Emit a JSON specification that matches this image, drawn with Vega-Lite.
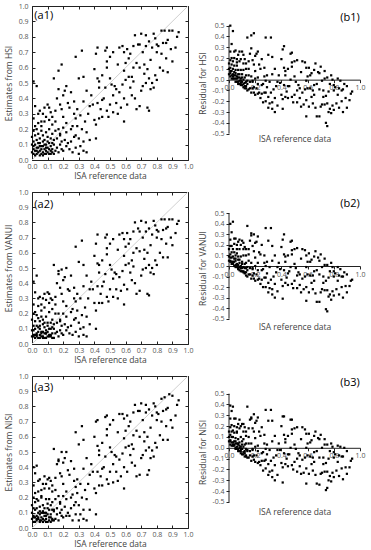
{
"$schema":"https://vega.github.io/schema/vega-lite/v6.json",
"background":"white",
"padding":{"left":3,"right":3,"top":1,"bottom":1},
"config":{"view":{"stroke":null},"font":"Open Sans","axis":{"grid":false,"labelFont":"Open Sans","labelFontSize":7,"labelColor":"#555","titleFont":"Open Sans","titleFontSize":8.5,"titleFontWeight":"normal","titleColor":"#444","tickColor":"#222","domainColor":"#222","labelFlush":false,"labelOverlap":false}},
"datasets":{"pts":[
{"x":0.00,"h":0.05,"v":0.05,"n":0.06,"rh":0.05,"rv":0.05,"rn":0.06},
{"x":0.01,"h":0.07,"v":0.06,"n":0.07,"rh":0.06,"rv":0.05,"rn":0.06},
{"x":0.01,"h":0.04,"v":0.05,"n":0.04,"rh":0.03,"rv":0.04,"rn":0.03},
{"x":0.02,"h":0.10,"v":0.10,"n":0.12,"rh":0.08,"rv":0.08,"rn":0.10},
{"x":0.02,"h":0.06,"v":0.06,"n":0.07,"rh":0.04,"rv":0.04,"rn":0.05},
{"x":0.03,"h":0.13,"v":0.12,"n":0.13,"rh":0.10,"rv":0.09,"rn":0.10},
{"x":0.03,"h":0.04,"v":0.05,"n":0.05,"rh":0.01,"rv":0.02,"rn":0.02},
{"x":0.04,"h":0.08,"v":0.08,"n":0.07,"rh":0.04,"rv":0.04,"rn":0.03},
{"x":0.04,"h":0.05,"v":0.04,"n":0.06,"rh":0.01,"rv":0.00,"rn":0.02},
{"x":0.05,"h":0.11,"v":0.12,"n":0.11,"rh":0.06,"rv":0.07,"rn":0.06},
{"x":0.05,"h":0.06,"v":0.06,"n":0.05,"rh":0.01,"rv":0.01,"rn":0.00},
{"x":0.06,"h":0.04,"v":0.05,"n":0.05,"rh":-0.02,"rv":-0.01,"rn":-0.01},
{"x":0.06,"h":0.09,"v":0.08,"n":0.10,"rh":0.03,"rv":0.02,"rn":0.04},
{"x":0.07,"h":0.05,"v":0.05,"n":0.06,"rh":-0.02,"rv":-0.02,"rn":-0.01},
{"x":0.07,"h":0.12,"v":0.13,"n":0.11,"rh":0.05,"rv":0.06,"rn":0.04},
{"x":0.08,"h":0.07,"v":0.07,"n":0.08,"rh":-0.01,"rv":-0.01,"rn":0.00},
{"x":0.08,"h":0.04,"v":0.04,"n":0.05,"rh":-0.04,"rv":-0.04,"rn":-0.03},
{"x":0.09,"h":0.10,"v":0.09,"n":0.10,"rh":0.01,"rv":0.00,"rn":0.01},
{"x":0.09,"h":0.06,"v":0.07,"n":0.06,"rh":-0.03,"rv":-0.02,"rn":-0.03},
{"x":0.10,"h":0.05,"v":0.05,"n":0.04,"rh":-0.05,"rv":-0.05,"rn":-0.06},
{"x":0.10,"h":0.08,"v":0.08,"n":0.09,"rh":-0.02,"rv":-0.02,"rn":-0.01},
{"x":0.11,"h":0.04,"v":0.05,"n":0.05,"rh":-0.07,"rv":-0.06,"rn":-0.06},
{"x":0.11,"h":0.11,"v":0.10,"n":0.12,"rh":0.00,"rv":-0.01,"rn":0.01},
{"x":0.12,"h":0.06,"v":0.06,"n":0.07,"rh":-0.06,"rv":-0.06,"rn":-0.05},
{"x":0.12,"h":0.09,"v":0.10,"n":0.09,"rh":-0.03,"rv":-0.02,"rn":-0.03},
{"x":0.13,"h":0.05,"v":0.04,"n":0.05,"rh":-0.08,"rv":-0.09,"rn":-0.08},
{"x":0.13,"h":0.07,"v":0.07,"n":0.06,"rh":-0.06,"rv":-0.06,"rn":-0.07},
{"x":0.14,"h":0.10,"v":0.10,"n":0.11,"rh":-0.04,"rv":-0.04,"rn":-0.03},
{"x":0.14,"h":0.04,"v":0.04,"n":0.05,"rh":-0.10,"rv":-0.10,"rn":-0.09},
{"x":0.15,"h":0.06,"v":0.07,"n":0.06,"rh":-0.09,"rv":-0.08,"rn":-0.09},
{"x":0.00,"h":0.15,"v":0.16,"n":0.15,"rh":0.15,"rv":0.16,"rn":0.15},
{"x":0.01,"h":0.19,"v":0.20,"n":0.20,"rh":0.18,"rv":0.19,"rn":0.19},
{"x":0.02,"h":0.16,"v":0.15,"n":0.17,"rh":0.14,"rv":0.13,"rn":0.15},
{"x":0.03,"h":0.20,"v":0.19,"n":0.19,"rh":0.17,"rv":0.16,"rn":0.16},
{"x":0.04,"h":0.17,"v":0.17,"n":0.18,"rh":0.13,"rv":0.13,"rn":0.14},
{"x":0.05,"h":0.14,"v":0.15,"n":0.14,"rh":0.09,"rv":0.10,"rn":0.09},
{"x":0.06,"h":0.19,"v":0.18,"n":0.20,"rh":0.13,"rv":0.12,"rn":0.14},
{"x":0.07,"h":0.16,"v":0.16,"n":0.15,"rh":0.09,"rv":0.09,"rn":0.08},
{"x":0.08,"h":0.13,"v":0.14,"n":0.13,"rh":0.05,"rv":0.06,"rn":0.05},
{"x":0.09,"h":0.18,"v":0.18,"n":0.19,"rh":0.09,"rv":0.09,"rn":0.10},
{"x":0.10,"h":0.15,"v":0.14,"n":0.16,"rh":0.05,"rv":0.04,"rn":0.06},
{"x":0.11,"h":0.20,"v":0.21,"n":0.19,"rh":0.09,"rv":0.10,"rn":0.08},
{"x":0.12,"h":0.14,"v":0.14,"n":0.15,"rh":0.02,"rv":0.02,"rn":0.03},
{"x":0.13,"h":0.17,"v":0.16,"n":0.17,"rh":0.04,"rv":0.03,"rn":0.04},
{"x":0.14,"h":0.13,"v":0.13,"n":0.12,"rh":-0.01,"rv":-0.01,"rn":-0.02},
{"x":0.15,"h":0.19,"v":0.20,"n":0.19,"rh":0.04,"rv":0.05,"rn":0.04},
{"x":0.00,"h":0.10,"v":0.09,"n":0.10,"rh":0.10,"rv":0.09,"rn":0.10},
{"x":0.01,"h":0.12,"v":0.12,"n":0.13,"rh":0.11,"rv":0.11,"rn":0.12},
{"x":0.02,"h":0.03,"v":0.04,"n":0.04,"rh":0.01,"rv":0.02,"rn":0.02},
{"x":0.03,"h":0.08,"v":0.07,"n":0.08,"rh":0.05,"rv":0.04,"rn":0.05},
{"x":0.04,"h":0.11,"v":0.11,"n":0.10,"rh":0.07,"rv":0.07,"rn":0.06},
{"x":0.05,"h":0.03,"v":0.04,"n":0.04,"rh":-0.02,"rv":-0.01,"rn":-0.01},
{"x":0.06,"h":0.07,"v":0.07,"n":0.07,"rh":0.01,"rv":0.01,"rn":0.01},
{"x":0.07,"h":0.09,"v":0.08,"n":0.10,"rh":0.02,"rv":0.01,"rn":0.03},
{"x":0.08,"h":0.10,"v":0.11,"n":0.10,"rh":0.02,"rv":0.03,"rn":0.02},
{"x":0.09,"h":0.04,"v":0.04,"n":0.04,"rh":-0.05,"rv":-0.05,"rn":-0.05},
{"x":0.10,"h":0.12,"v":0.12,"n":0.13,"rh":0.02,"rv":0.02,"rn":0.03},
{"x":0.11,"h":0.07,"v":0.06,"n":0.07,"rh":-0.04,"rv":-0.05,"rn":-0.04},
{"x":0.12,"h":0.04,"v":0.05,"n":0.04,"rh":-0.08,"rv":-0.07,"rn":-0.08},
{"x":0.13,"h":0.11,"v":0.11,"n":0.12,"rh":-0.02,"rv":-0.02,"rn":-0.01},
{"x":0.02,"h":0.22,"v":0.21,"n":0.23,"rh":0.20,"rv":0.19,"rn":0.21},
{"x":0.04,"h":0.24,"v":0.25,"n":0.24,"rh":0.20,"rv":0.21,"rn":0.20},
{"x":0.06,"h":0.22,"v":0.22,"n":0.21,"rh":0.16,"rv":0.16,"rn":0.15},
{"x":0.08,"h":0.25,"v":0.24,"n":0.26,"rh":0.17,"rv":0.16,"rn":0.18},
{"x":0.01,"h":0.09,"v":0.09,"n":0.08,"rh":0.08,"rv":0.08,"rn":0.07},
{"x":0.03,"h":0.06,"v":0.06,"n":0.06,"rh":0.03,"rv":0.03,"rn":0.03},
{"x":0.05,"h":0.09,"v":0.10,"n":0.09,"rh":0.04,"rv":0.05,"rn":0.04},
{"x":0.07,"h":0.03,"v":0.04,"n":0.04,"rh":-0.04,"rv":-0.03,"rn":-0.03},
{"x":0.09,"h":0.08,"v":0.07,"n":0.08,"rh":-0.01,"rv":-0.02,"rn":-0.01},
{"x":0.16,"h":0.08,"v":0.08,"n":0.09,"rh":-0.08,"rv":-0.08,"rn":-0.07},
{"x":0.17,"h":0.05,"v":0.05,"n":0.05,"rh":-0.12,"rv":-0.12,"rn":-0.12},
{"x":0.18,"h":0.10,"v":0.09,"n":0.10,"rh":-0.08,"rv":-0.09,"rn":-0.08},
{"x":0.19,"h":0.07,"v":0.07,"n":0.08,"rh":-0.12,"rv":-0.12,"rn":-0.11},
{"x":0.16,"h":0.14,"v":0.14,"n":0.13,"rh":-0.02,"rv":-0.02,"rn":-0.03},
{"x":0.18,"h":0.17,"v":0.16,"n":0.17,"rh":-0.01,"rv":-0.02,"rn":-0.01},
{"x":0.17,"h":0.20,"v":0.20,"n":0.21,"rh":0.03,"rv":0.03,"rn":0.04},
{"x":0.01,"h":0.27,"v":0.26,"n":0.28,"rh":0.26,"rv":0.25,"rn":0.27},
{"x":0.01,"h":0.51,"v":0.41,"n":0.40,"rh":0.50,"rv":0.40,"rn":0.39},
{"x":0.03,"h":0.48,"v":0.45,"n":0.41,"rh":0.45,"rv":0.42,"rn":0.38},
{"x":0.02,"h":0.35,"v":0.34,"n":0.36,"rh":0.33,"rv":0.32,"rn":0.34},
{"x":0.04,"h":0.30,"v":0.30,"n":0.31,"rh":0.26,"rv":0.26,"rn":0.27},
{"x":0.05,"h":0.32,"v":0.31,"n":0.32,"rh":0.27,"rv":0.26,"rn":0.27},
{"x":0.07,"h":0.30,"v":0.30,"n":0.29,"rh":0.23,"rv":0.23,"rn":0.22},
{"x":0.08,"h":0.34,"v":0.33,"n":0.34,"rh":0.26,"rv":0.25,"rn":0.26},
{"x":0.10,"h":0.36,"v":0.34,"n":0.32,"rh":0.26,"rv":0.24,"rn":0.22},
{"x":0.11,"h":0.34,"v":0.33,"n":0.33,"rh":0.23,"rv":0.22,"rn":0.22},
{"x":0.11,"h":0.26,"v":0.27,"n":0.26,"rh":0.15,"rv":0.16,"rn":0.15},
{"x":0.13,"h":0.28,"v":0.29,"n":0.28,"rh":0.15,"rv":0.16,"rn":0.15},
{"x":0.12,"h":0.31,"v":0.30,"n":0.31,"rh":0.19,"rv":0.18,"rn":0.19},
{"x":0.15,"h":0.32,"v":0.31,"n":0.33,"rh":0.17,"rv":0.16,"rn":0.18},
{"x":0.14,"h":0.53,"v":0.52,"n":0.52,"rh":0.39,"rv":0.38,"rn":0.38},
{"x":0.17,"h":0.58,"v":0.48,"n":0.45,"rh":0.41,"rv":0.31,"rn":0.28},
{"x":0.19,"h":0.62,"v":0.49,"n":0.50,"rh":0.43,"rv":0.30,"rn":0.31},
{"x":0.17,"h":0.46,"v":0.46,"n":0.44,"rh":0.29,"rv":0.29,"rn":0.27},
{"x":0.21,"h":0.45,"v":0.44,"n":0.46,"rh":0.24,"rv":0.23,"rn":0.25},
{"x":0.22,"h":0.48,"v":0.50,"n":0.50,"rh":0.26,"rv":0.28,"rn":0.28},
{"x":0.19,"h":0.33,"v":0.33,"n":0.34,"rh":0.14,"rv":0.14,"rn":0.15},
{"x":0.23,"h":0.37,"v":0.36,"n":0.38,"rh":0.14,"rv":0.13,"rn":0.15},
{"x":0.24,"h":0.34,"v":0.35,"n":0.35,"rh":0.10,"rv":0.11,"rn":0.11},
{"x":0.29,"h":0.33,"v":0.33,"n":0.32,"rh":0.04,"rv":0.04,"rn":0.03},
{"x":0.28,"h":0.27,"v":0.28,"n":0.27,"rh":-0.01,"rv":0.00,"rn":-0.01},
{"x":0.28,"h":0.67,"v":0.64,"n":0.63,"rh":0.39,"rv":0.36,"rn":0.35},
{"x":0.30,"h":0.53,"v":0.54,"n":0.55,"rh":0.23,"rv":0.24,"rn":0.25},
{"x":0.33,"h":0.54,"v":0.52,"n":0.58,"rh":0.21,"rv":0.19,"rn":0.25},
{"x":0.32,"h":0.71,"v":0.68,"n":0.67,"rh":0.39,"rv":0.36,"rn":0.35},
{"x":0.16,"h":0.40,"v":0.40,"n":0.42,"rh":0.24,"rv":0.24,"rn":0.26},
{"x":0.18,"h":0.36,"v":0.37,"n":0.36,"rh":0.18,"rv":0.19,"rn":0.18},
{"x":0.20,"h":0.42,"v":0.42,"n":0.43,"rh":0.22,"rv":0.22,"rn":0.23},
{"x":0.25,"h":0.44,"v":0.45,"n":0.44,"rh":0.19,"rv":0.20,"rn":0.19},
{"x":0.27,"h":0.38,"v":0.37,"n":0.39,"rh":0.11,"rv":0.10,"rn":0.12},
{"x":0.09,"h":0.28,"v":0.29,"n":0.29,"rh":0.19,"rv":0.20,"rn":0.20},
{"x":0.06,"h":0.25,"v":0.26,"n":0.25,"rh":0.19,"rv":0.20,"rn":0.19},
{"x":0.13,"h":0.23,"v":0.23,"n":0.24,"rh":0.10,"rv":0.10,"rn":0.11},
{"x":0.15,"h":0.25,"v":0.26,"n":0.25,"rh":0.10,"rv":0.11,"rn":0.10},
{"x":0.20,"h":0.28,"v":0.28,"n":0.29,"rh":0.08,"rv":0.08,"rn":0.09},
{"x":0.22,"h":0.24,"v":0.25,"n":0.24,"rh":0.02,"rv":0.03,"rn":0.02},
{"x":0.20,"h":0.06,"v":0.06,"n":0.07,"rh":-0.14,"rv":-0.14,"rn":-0.13},
{"x":0.22,"h":0.09,"v":0.09,"n":0.08,"rh":-0.13,"rv":-0.13,"rn":-0.14},
{"x":0.24,"h":0.07,"v":0.07,"n":0.08,"rh":-0.17,"rv":-0.17,"rn":-0.16},
{"x":0.26,"h":0.05,"v":0.06,"n":0.05,"rh":-0.21,"rv":-0.20,"rn":-0.21},
{"x":0.28,"h":0.08,"v":0.08,"n":0.09,"rh":-0.20,"rv":-0.20,"rn":-0.19},
{"x":0.30,"h":0.04,"v":0.05,"n":0.05,"rh":-0.26,"rv":-0.25,"rn":-0.25},
{"x":0.33,"h":0.06,"v":0.06,"n":0.06,"rh":-0.27,"rv":-0.27,"rn":-0.27},
{"x":0.35,"h":0.05,"v":0.05,"n":0.05,"rh":-0.30,"rv":-0.30,"rn":-0.30},
{"x":0.25,"h":0.12,"v":0.12,"n":0.13,"rh":-0.13,"rv":-0.13,"rn":-0.12},
{"x":0.27,"h":0.15,"v":0.16,"n":0.15,"rh":-0.12,"rv":-0.11,"rn":-0.12},
{"x":0.28,"h":0.16,"v":0.17,"n":0.17,"rh":-0.12,"rv":-0.11,"rn":-0.11},
{"x":0.30,"h":0.14,"v":0.14,"n":0.15,"rh":-0.16,"rv":-0.16,"rn":-0.15},
{"x":0.33,"h":0.12,"v":0.11,"n":0.12,"rh":-0.21,"rv":-0.22,"rn":-0.21},
{"x":0.37,"h":0.13,"v":0.13,"n":0.12,"rh":-0.24,"rv":-0.24,"rn":-0.25},
{"x":0.41,"h":0.14,"v":0.10,"n":0.09,"rh":-0.27,"rv":-0.31,"rn":-0.32},
{"x":0.18,"h":0.16,"v":0.15,"n":0.16,"rh":-0.02,"rv":-0.03,"rn":-0.02},
{"x":0.20,"h":0.21,"v":0.20,"n":0.21,"rh":0.01,"rv":0.00,"rn":0.01},
{"x":0.22,"h":0.18,"v":0.18,"n":0.19,"rh":-0.04,"rv":-0.04,"rn":-0.03},
{"x":0.25,"h":0.20,"v":0.21,"n":0.20,"rh":-0.05,"rv":-0.04,"rn":-0.05},
{"x":0.29,"h":0.22,"v":0.22,"n":0.23,"rh":-0.07,"rv":-0.07,"rn":-0.06},
{"x":0.32,"h":0.20,"v":0.19,"n":0.20,"rh":-0.12,"rv":-0.13,"rn":-0.12},
{"x":0.35,"h":0.18,"v":0.18,"n":0.19,"rh":-0.17,"rv":-0.17,"rn":-0.16},
{"x":0.21,"h":0.13,"v":0.13,"n":0.14,"rh":-0.08,"rv":-0.08,"rn":-0.07},
{"x":0.23,"h":0.11,"v":0.11,"n":0.10,"rh":-0.12,"rv":-0.12,"rn":-0.13},
{"x":0.31,"h":0.09,"v":0.10,"n":0.09,"rh":-0.22,"rv":-0.21,"rn":-0.22},
{"x":0.19,"h":0.12,"v":0.12,"n":0.12,"rh":-0.07,"rv":-0.07,"rn":-0.07},
{"x":0.26,"h":0.22,"v":0.23,"n":0.22,"rh":-0.04,"rv":-0.03,"rn":-0.04},
{"x":0.27,"h":0.30,"v":0.30,"n":0.31,"rh":0.03,"rv":0.03,"rn":0.04},
{"x":0.34,"h":0.25,"v":0.24,"n":0.25,"rh":-0.09,"rv":-0.10,"rn":-0.09},
{"x":0.40,"h":0.26,"v":0.27,"n":0.26,"rh":-0.14,"rv":-0.13,"rn":-0.14},
{"x":0.41,"h":0.23,"v":0.22,"n":0.23,"rh":-0.18,"rv":-0.19,"rn":-0.18},
{"x":0.43,"h":0.27,"v":0.27,"n":0.28,"rh":-0.16,"rv":-0.16,"rn":-0.15},
{"x":0.39,"h":0.36,"v":0.36,"n":0.37,"rh":-0.03,"rv":-0.03,"rn":-0.02},
{"x":0.42,"h":0.37,"v":0.38,"n":0.37,"rh":-0.05,"rv":-0.04,"rn":-0.05},
{"x":0.44,"h":0.33,"v":0.33,"n":0.34,"rh":-0.11,"rv":-0.11,"rn":-0.10},
{"x":0.46,"h":0.40,"v":0.41,"n":0.40,"rh":-0.06,"rv":-0.05,"rn":-0.06},
{"x":0.48,"h":0.32,"v":0.31,"n":0.32,"rh":-0.16,"rv":-0.17,"rn":-0.16},
{"x":0.49,"h":0.28,"v":0.28,"n":0.29,"rh":-0.21,"rv":-0.21,"rn":-0.20},
{"x":0.52,"h":0.31,"v":0.31,"n":0.30,"rh":-0.21,"rv":-0.21,"rn":-0.22},
{"x":0.54,"h":0.37,"v":0.36,"n":0.37,"rh":-0.17,"rv":-0.18,"rn":-0.17},
{"x":0.55,"h":0.30,"v":0.30,"n":0.31,"rh":-0.25,"rv":-0.25,"rn":-0.24},
{"x":0.57,"h":0.34,"v":0.35,"n":0.34,"rh":-0.23,"rv":-0.22,"rn":-0.23},
{"x":0.59,"h":0.40,"v":0.39,"n":0.40,"rh":-0.19,"rv":-0.20,"rn":-0.19},
{"x":0.59,"h":0.25,"v":0.26,"n":0.26,"rh":-0.34,"rv":-0.33,"rn":-0.33},
{"x":0.45,"h":0.39,"v":0.38,"n":0.39,"rh":-0.06,"rv":-0.07,"rn":-0.06},
{"x":0.43,"h":0.47,"v":0.47,"n":0.48,"rh":0.04,"rv":0.04,"rn":0.05},
{"x":0.43,"h":0.51,"v":0.52,"n":0.51,"rh":0.08,"rv":0.09,"rn":0.08},
{"x":0.42,"h":0.53,"v":0.53,"n":0.54,"rh":0.11,"rv":0.11,"rn":0.12},
{"x":0.40,"h":0.59,"v":0.58,"n":0.60,"rh":0.19,"rv":0.18,"rn":0.20},
{"x":0.47,"h":0.47,"v":0.46,"n":0.47,"rh":0.00,"rv":-0.01,"rn":0.00},
{"x":0.50,"h":0.53,"v":0.52,"n":0.53,"rh":0.03,"rv":0.02,"rn":0.03},
{"x":0.51,"h":0.49,"v":0.49,"n":0.50,"rh":-0.02,"rv":-0.02,"rn":-0.01},
{"x":0.53,"h":0.48,"v":0.47,"n":0.48,"rh":-0.05,"rv":-0.06,"rn":-0.05},
{"x":0.54,"h":0.46,"v":0.46,"n":0.47,"rh":-0.08,"rv":-0.08,"rn":-0.07},
{"x":0.36,"h":0.30,"v":0.30,"n":0.29,"rh":-0.06,"rv":-0.06,"rn":-0.07},
{"x":0.38,"h":0.42,"v":0.41,"n":0.42,"rh":0.04,"rv":0.03,"rn":0.04},
{"x":0.35,"h":0.45,"v":0.45,"n":0.46,"rh":0.10,"rv":0.10,"rn":0.11},
{"x":0.45,"h":0.55,"v":0.55,"n":0.56,"rh":0.10,"rv":0.10,"rn":0.11},
{"x":0.48,"h":0.60,"v":0.59,"n":0.61,"rh":0.12,"rv":0.11,"rn":0.13},
{"x":0.52,"h":0.42,"v":0.43,"n":0.42,"rh":-0.10,"rv":-0.09,"rn":-0.10},
{"x":0.56,"h":0.44,"v":0.44,"n":0.45,"rh":-0.12,"rv":-0.12,"rn":-0.11},
{"x":0.58,"h":0.49,"v":0.48,"n":0.49,"rh":-0.09,"rv":-0.10,"rn":-0.09},
{"x":0.37,"h":0.35,"v":0.36,"n":0.35,"rh":-0.02,"rv":-0.01,"rn":-0.02},
{"x":0.33,"h":0.38,"v":0.38,"n":0.39,"rh":0.05,"rv":0.05,"rn":0.06},
{"x":0.31,"h":0.29,"v":0.30,"n":0.29,"rh":-0.02,"rv":-0.01,"rn":-0.02},
{"x":0.45,"h":0.28,"v":0.27,"n":0.28,"rh":-0.17,"rv":-0.18,"rn":-0.17},
{"x":0.50,"h":0.36,"v":0.36,"n":0.37,"rh":-0.14,"rv":-0.14,"rn":-0.13},
{"x":0.41,"h":0.69,"v":0.66,"n":0.70,"rh":0.28,"rv":0.25,"rn":0.29},
{"x":0.42,"h":0.73,"v":0.72,"n":0.71,"rh":0.31,"rv":0.30,"rn":0.29},
{"x":0.47,"h":0.71,"v":0.70,"n":0.73,"rh":0.24,"rv":0.23,"rn":0.26},
{"x":0.48,"h":0.73,"v":0.72,"n":0.74,"rh":0.25,"rv":0.24,"rn":0.26},
{"x":0.48,"h":0.64,"v":0.63,"n":0.65,"rh":0.16,"rv":0.15,"rn":0.17},
{"x":0.50,"h":0.67,"v":0.66,"n":0.68,"rh":0.17,"rv":0.16,"rn":0.18},
{"x":0.52,"h":0.70,"v":0.69,"n":0.71,"rh":0.18,"rv":0.17,"rn":0.19},
{"x":0.56,"h":0.73,"v":0.72,"n":0.75,"rh":0.17,"rv":0.16,"rn":0.19},
{"x":0.58,"h":0.74,"v":0.73,"n":0.75,"rh":0.16,"rv":0.15,"rn":0.17},
{"x":0.59,"h":0.70,"v":0.69,"n":0.72,"rh":0.11,"rv":0.10,"rn":0.13},
{"x":0.61,"h":0.72,"v":0.73,"n":0.74,"rh":0.11,"rv":0.12,"rn":0.13},
{"x":0.65,"h":0.74,"v":0.74,"n":0.76,"rh":0.09,"rv":0.09,"rn":0.11},
{"x":0.68,"h":0.75,"v":0.76,"n":0.77,"rh":0.07,"rv":0.08,"rn":0.09},
{"x":0.69,"h":0.75,"v":0.74,"n":0.77,"rh":0.06,"rv":0.05,"rn":0.08},
{"x":0.73,"h":0.74,"v":0.74,"n":0.76,"rh":0.01,"rv":0.01,"rn":0.03},
{"x":0.66,"h":0.81,"v":0.80,"n":0.81,"rh":0.15,"rv":0.14,"rn":0.15},
{"x":0.70,"h":0.82,"v":0.81,"n":0.82,"rh":0.12,"rv":0.11,"rn":0.12},
{"x":0.73,"h":0.81,"v":0.80,"n":0.81,"rh":0.08,"rv":0.07,"rn":0.08},
{"x":0.78,"h":0.82,"v":0.81,"n":0.82,"rh":0.04,"rv":0.03,"rn":0.04},
{"x":0.83,"h":0.84,"v":0.82,"n":0.85,"rh":0.01,"rv":-0.01,"rn":0.02},
{"x":0.85,"h":0.84,"v":0.82,"n":0.86,"rh":-0.01,"rv":-0.03,"rn":0.01},
{"x":0.88,"h":0.84,"v":0.82,"n":0.88,"rh":-0.04,"rv":-0.06,"rn":0.00},
{"x":0.90,"h":0.84,"v":0.82,"n":0.87,"rh":-0.06,"rv":-0.08,"rn":-0.03},
{"x":0.93,"h":0.80,"v":0.79,"n":0.81,"rh":-0.13,"rv":-0.14,"rn":-0.12},
{"x":0.94,"h":0.83,"v":0.81,"n":0.84,"rh":-0.11,"rv":-0.13,"rn":-0.10},
{"x":0.84,"h":0.76,"v":0.75,"n":0.77,"rh":-0.08,"rv":-0.09,"rn":-0.07},
{"x":0.86,"h":0.76,"v":0.76,"n":0.78,"rh":-0.10,"rv":-0.10,"rn":-0.08},
{"x":0.81,"h":0.74,"v":0.74,"n":0.75,"rh":-0.07,"rv":-0.07,"rn":-0.06},
{"x":0.80,"h":0.75,"v":0.75,"n":0.76,"rh":-0.05,"rv":-0.05,"rn":-0.04},
{"x":0.77,"h":0.73,"v":0.72,"n":0.74,"rh":-0.04,"rv":-0.05,"rn":-0.03},
{"x":0.80,"h":0.70,"v":0.70,"n":0.71,"rh":-0.10,"rv":-0.10,"rn":-0.09},
{"x":0.83,"h":0.69,"v":0.69,"n":0.70,"rh":-0.14,"rv":-0.14,"rn":-0.13},
{"x":0.86,"h":0.66,"v":0.66,"n":0.67,"rh":-0.20,"rv":-0.20,"rn":-0.19},
{"x":0.89,"h":0.72,"v":0.70,"n":0.71,"rh":-0.17,"rv":-0.19,"rn":-0.18},
{"x":0.90,"h":0.64,"v":0.65,"n":0.66,"rh":-0.26,"rv":-0.25,"rn":-0.24},
{"x":0.76,"h":0.65,"v":0.65,"n":0.66,"rh":-0.11,"rv":-0.11,"rn":-0.10},
{"x":0.74,"h":0.59,"v":0.60,"n":0.60,"rh":-0.15,"rv":-0.14,"rn":-0.14},
{"x":0.72,"h":0.62,"v":0.62,"n":0.63,"rh":-0.10,"rv":-0.10,"rn":-0.09},
{"x":0.69,"h":0.60,"v":0.61,"n":0.60,"rh":-0.09,"rv":-0.08,"rn":-0.09},
{"x":0.67,"h":0.63,"v":0.63,"n":0.64,"rh":-0.04,"rv":-0.04,"rn":-0.03},
{"x":0.65,"h":0.60,"v":0.60,"n":0.61,"rh":-0.05,"rv":-0.05,"rn":-0.04},
{"x":0.62,"h":0.66,"v":0.66,"n":0.67,"rh":0.04,"rv":0.04,"rn":0.05},
{"x":0.55,"h":0.62,"v":0.62,"n":0.63,"rh":0.07,"rv":0.07,"rn":0.08},
{"x":0.60,"h":0.63,"v":0.64,"n":0.64,"rh":0.03,"rv":0.04,"rn":0.04},
{"x":0.92,"h":0.73,"v":0.73,"n":0.74,"rh":-0.19,"rv":-0.19,"rn":-0.18},
{"x":0.87,"h":0.78,"v":0.77,"n":0.79,"rh":-0.09,"rv":-0.10,"rn":-0.08},
{"x":0.79,"h":0.79,"v":0.78,"n":0.80,"rh":0.00,"rv":-0.01,"rn":0.01},
{"x":0.75,"h":0.77,"v":0.76,"n":0.78,"rh":0.02,"rv":0.01,"rn":0.03},
{"x":0.71,"h":0.70,"v":0.70,"n":0.71,"rh":-0.01,"rv":-0.01,"rn":0.00},
{"x":0.63,"h":0.69,"v":0.69,"n":0.70,"rh":0.06,"rv":0.06,"rn":0.07},
{"x":0.59,"h":0.58,"v":0.58,"n":0.59,"rh":-0.01,"rv":-0.01,"rn":0.00},
{"x":0.60,"h":0.52,"v":0.52,"n":0.53,"rh":-0.08,"rv":-0.08,"rn":-0.07},
{"x":0.62,"h":0.54,"v":0.53,"n":0.54,"rh":-0.08,"rv":-0.09,"rn":-0.08},
{"x":0.64,"h":0.54,"v":0.55,"n":0.55,"rh":-0.10,"rv":-0.09,"rn":-0.09},
{"x":0.65,"h":0.51,"v":0.51,"n":0.52,"rh":-0.14,"rv":-0.14,"rn":-0.13},
{"x":0.72,"h":0.56,"v":0.56,"n":0.57,"rh":-0.16,"rv":-0.16,"rn":-0.15},
{"x":0.75,"h":0.53,"v":0.52,"n":0.53,"rh":-0.22,"rv":-0.23,"rn":-0.22},
{"x":0.77,"h":0.50,"v":0.50,"n":0.51,"rh":-0.27,"rv":-0.27,"rn":-0.26},
{"x":0.78,"h":0.47,"v":0.46,"n":0.47,"rh":-0.31,"rv":-0.32,"rn":-0.31},
{"x":0.71,"h":0.48,"v":0.49,"n":0.48,"rh":-0.23,"rv":-0.22,"rn":-0.23},
{"x":0.87,"h":0.57,"v":0.57,"n":0.58,"rh":-0.30,"rv":-0.30,"rn":-0.29},
{"x":0.67,"h":0.33,"v":0.33,"n":0.34,"rh":-0.34,"rv":-0.34,"rn":-0.33},
{"x":0.69,"h":0.35,"v":0.35,"n":0.35,"rh":-0.34,"rv":-0.34,"rn":-0.34},
{"x":0.74,"h":0.34,"v":0.33,"n":0.35,"rh":-0.40,"rv":-0.41,"rn":-0.39},
{"x":0.75,"h":0.32,"v":0.32,"n":0.38,"rh":-0.43,"rv":-0.43,"rn":-0.37},
{"x":0.64,"h":0.42,"v":0.42,"n":0.43,"rh":-0.22,"rv":-0.22,"rn":-0.21},
{"x":0.70,"h":0.45,"v":0.45,"n":0.46,"rh":-0.25,"rv":-0.25,"rn":-0.24},
{"x":0.79,"h":0.55,"v":0.55,"n":0.56,"rh":-0.24,"rv":-0.24,"rn":-0.23},
{"x":0.82,"h":0.60,"v":0.60,"n":0.61,"rh":-0.22,"rv":-0.22,"rn":-0.21},
{"x":0.76,"h":0.46,"v":0.47,"n":0.46,"rh":-0.30,"rv":-0.29,"rn":-0.30},
{"x":0.66,"h":0.40,"v":0.40,"n":0.41,"rh":-0.26,"rv":-0.26,"rn":-0.25},
{"x":0.61,"h":0.36,"v":0.36,"n":0.37,"rh":-0.25,"rv":-0.25,"rn":-0.24},
{"x":0.73,"h":0.50,"v":0.50,"n":0.51,"rh":-0.23,"rv":-0.23,"rn":-0.22},
{"x":0.80,"h":0.52,"v":0.52,"n":0.53,"rh":-0.28,"rv":-0.28,"rn":-0.27},
{"x":0.84,"h":0.58,"v":0.57,"n":0.58,"rh":-0.26,"rv":-0.27,"rn":-0.26},
{"x":0.63,"h":0.47,"v":0.47,"n":0.48,"rh":-0.16,"rv":-0.16,"rn":-0.15}
]},
"data":{"name":"pts"},
"bounds":"flush",
"align":"each",
"columns":2,
"spacing":{"row":32,"column":41},
"concat":[
{"width":156,"height":154,"view":{"stroke":"#222","strokeWidth":1},
 "resolve":{"axis":{"x":"independent","y":"independent"}},
 "layer":[
  {"data":{"values":[{}]},"mark":{"type":"rule","color":"#d0d0d0","strokeWidth":1},
   "encoding":{"x":{"datum":0,"type":"quantitative","scale":{"domain":[0,1]},"axis":{"orient":"top","values":[0,0.1,0.2,0.3,0.4,0.5,0.6,0.7,0.8,0.9,1],"tickSize":-3,"labels":false,"domain":false,"title":null}},
    "y":{"datum":0,"type":"quantitative","scale":{"domain":[0,1]},"axis":{"orient":"right","values":[0,0.1,0.2,0.3,0.4,0.5,0.6,0.7,0.8,0.9,1],"tickSize":-3,"labels":false,"domain":false,"title":null}},
    "x2":{"datum":1},"y2":{"datum":1}}},
  {"mark":{"type":"square","size":5,"color":"#000","opacity":1},
   "encoding":{"x":{"field":"x","type":"quantitative","scale":{"domain":[0,1]},"axis":{"orient":"bottom","values":[0,0.1,0.2,0.3,0.4,0.5,0.6,0.7,0.8,0.9,1],"format":".1f","tickSize":-3,"labelPadding":5,"domain":false,"title":"ISA reference data","titlePadding":2}},
    "y":{"field":"h","type":"quantitative","scale":{"domain":[0,1]},"axis":{"orient":"left","values":[0,0.1,0.2,0.3,0.4,0.5,0.6,0.7,0.8,0.9,1],"format":".1f","tickSize":-3,"labelPadding":7,"domain":false,"title":"Estimates from HSI","titlePadding":5}}}},
  {"data":{"values":[{}]},"mark":{"type":"text","fontSize":11,"align":"left","baseline":"middle","color":"#000","font":"Open Sans"},
   "encoding":{"x":{"datum":0.015,"type":"quantitative","axis":null},"y":{"datum":0.935,"type":"quantitative","axis":null},"text":{"value":"(a1)"}}}
 ]},
{"width":131,"height":154,
 "resolve":{"axis":{"x":"independent","y":"independent"}},
 "layer":[
  {"data":{"values":[{}]},"mark":{"type":"rule","color":"#222","strokeWidth":1},
   "encoding":{"x":{"datum":0,"type":"quantitative","scale":{"domain":[0,1]},"axis":null},"y":{"datum":-0.5,"type":"quantitative","scale":{"domain":[-0.744,0.682],"nice":false,"zero":false},"axis":null},"y2":{"datum":0.5}}},
  {"mark":{"type":"square","size":5,"color":"#000","opacity":1},
   "encoding":{"x":{"field":"x","type":"quantitative","scale":{"domain":[0,1]},"axis":{"orient":"bottom","values":[0,0.2,0.4,0.6,0.8,1],"format":".1f","tickSize":3,"labelPadding":1,"offset":-80.35,"domain":true,"title":"ISA reference data","titleY":59,"titleBaseline":"middle"}},
    "y":{"field":"rh","type":"quantitative","scale":{"domain":[-0.744,0.682],"nice":false,"zero":false},"axis":{"orient":"left","values":[-0.5,-0.4,-0.3,-0.2,-0.1,0,0.1,0.2,0.3,0.4,0.5],"labelExpr":"replace(format(datum.value,'.1f'),'−','-')","tickSize":3,"labelPadding":2,"domain":false,"title":"Residual for HSI","titlePadding":4}}}},
  {"data":{"values":[{}]},"mark":{"type":"text","fontSize":11,"align":"center","baseline":"middle","color":"#000","font":"Open Sans"},
   "encoding":{"x":{"datum":0.924,"type":"quantitative","axis":null},"y":{"datum":0.571,"type":"quantitative","axis":null},"text":{"value":"(b1)"}}}
 ]},
{"width":156,"height":152,"view":{"stroke":"#222","strokeWidth":1},
 "resolve":{"axis":{"x":"independent","y":"independent"}},
 "layer":[
  {"data":{"values":[{}]},"mark":{"type":"rule","color":"#d0d0d0","strokeWidth":1},
   "encoding":{"x":{"datum":0,"type":"quantitative","scale":{"domain":[0,1]},"axis":{"orient":"top","values":[0,0.1,0.2,0.3,0.4,0.5,0.6,0.7,0.8,0.9,1],"tickSize":-3,"labels":false,"domain":false,"title":null}},
    "y":{"datum":0,"type":"quantitative","scale":{"domain":[0,1]},"axis":{"orient":"right","values":[0,0.1,0.2,0.3,0.4,0.5,0.6,0.7,0.8,0.9,1],"tickSize":-3,"labels":false,"domain":false,"title":null}},
    "x2":{"datum":1},"y2":{"datum":1}}},
  {"mark":{"type":"square","size":5,"color":"#000","opacity":1},
   "encoding":{"x":{"field":"x","type":"quantitative","scale":{"domain":[0,1]},"axis":{"orient":"bottom","values":[0,0.1,0.2,0.3,0.4,0.5,0.6,0.7,0.8,0.9,1],"format":".1f","tickSize":-3,"labelPadding":5,"domain":false,"title":"ISA reference data","titlePadding":2}},
    "y":{"field":"v","type":"quantitative","scale":{"domain":[0,1]},"axis":{"orient":"left","values":[0,0.1,0.2,0.3,0.4,0.5,0.6,0.7,0.8,0.9,1],"format":".1f","tickSize":-3,"labelPadding":7,"domain":false,"title":"Estimates from VANUI","titlePadding":5}}}},
  {"data":{"values":[{}]},"mark":{"type":"text","fontSize":11,"align":"left","baseline":"middle","color":"#000","font":"Open Sans"},
   "encoding":{"x":{"datum":0.015,"type":"quantitative","axis":null},"y":{"datum":0.914,"type":"quantitative","axis":null},"text":{"value":"(a2)"}}}
 ]},
{"width":131,"height":152,
 "resolve":{"axis":{"x":"independent","y":"independent"}},
 "layer":[
  {"data":{"values":[{}]},"mark":{"type":"rule","color":"#222","strokeWidth":1},
   "encoding":{"x":{"datum":0,"type":"quantitative","scale":{"domain":[0,1]},"axis":null},"y":{"datum":-0.5,"type":"quantitative","scale":{"domain":[-0.740,0.702],"nice":false,"zero":false},"axis":null},"y2":{"datum":0.5}}},
  {"mark":{"type":"square","size":5,"color":"#000","opacity":1},
   "encoding":{"x":{"field":"x","type":"quantitative","scale":{"domain":[0,1]},"axis":{"orient":"bottom","values":[0,0.2,0.4,0.6,0.8,1],"format":".1f","tickSize":3,"labelPadding":1,"offset":-78,"domain":true,"title":"ISA reference data","titleY":60,"titleBaseline":"middle"}},
    "y":{"field":"rv","type":"quantitative","scale":{"domain":[-0.740,0.702],"nice":false,"zero":false},"axis":{"orient":"left","values":[-0.5,-0.4,-0.3,-0.2,-0.1,0,0.1,0.2,0.3,0.4,0.5],"labelExpr":"replace(format(datum.value,'.1f'),'−','-')","tickSize":3,"labelPadding":2,"domain":false,"title":"Residual for VANUI","titlePadding":4}}}},
  {"data":{"values":[{}]},"mark":{"type":"text","fontSize":11,"align":"center","baseline":"middle","color":"#000","font":"Open Sans"},
   "encoding":{"x":{"datum":0.924,"type":"quantitative","axis":null},"y":{"datum":0.588,"type":"quantitative","axis":null},"text":{"value":"(b2)"}}}
 ]},
{"width":156,"height":152,"view":{"stroke":"#222","strokeWidth":1},
 "resolve":{"axis":{"x":"independent","y":"independent"}},
 "layer":[
  {"data":{"values":[{}]},"mark":{"type":"rule","color":"#d0d0d0","strokeWidth":1},
   "encoding":{"x":{"datum":0,"type":"quantitative","scale":{"domain":[0,1]},"axis":{"orient":"top","values":[0,0.1,0.2,0.3,0.4,0.5,0.6,0.7,0.8,0.9,1],"tickSize":-3,"labels":false,"domain":false,"title":null}},
    "y":{"datum":0,"type":"quantitative","scale":{"domain":[0,1]},"axis":{"orient":"right","values":[0,0.1,0.2,0.3,0.4,0.5,0.6,0.7,0.8,0.9,1],"tickSize":-3,"labels":false,"domain":false,"title":null}},
    "x2":{"datum":1},"y2":{"datum":1}}},
  {"mark":{"type":"square","size":5,"color":"#000","opacity":1},
   "encoding":{"x":{"field":"x","type":"quantitative","scale":{"domain":[0,1]},"axis":{"orient":"bottom","values":[0,0.1,0.2,0.3,0.4,0.5,0.6,0.7,0.8,0.9,1],"format":".1f","tickSize":-3,"labelPadding":5,"domain":false,"title":"ISA reference data","titlePadding":2}},
    "y":{"field":"n","type":"quantitative","scale":{"domain":[0,1]},"axis":{"orient":"left","values":[0,0.1,0.2,0.3,0.4,0.5,0.6,0.7,0.8,0.9,1],"format":".1f","tickSize":-3,"labelPadding":7,"domain":false,"title":"Estimates from NISI","titlePadding":5}}}},
  {"data":{"values":[{}]},"mark":{"type":"text","fontSize":11,"align":"left","baseline":"middle","color":"#000","font":"Open Sans"},
   "encoding":{"x":{"datum":0.015,"type":"quantitative","axis":null},"y":{"datum":0.923,"type":"quantitative","axis":null},"text":{"value":"(a3)"}}}
 ]},
{"width":131,"height":152,
 "resolve":{"axis":{"x":"independent","y":"independent"}},
 "layer":[
  {"data":{"values":[{}]},"mark":{"type":"rule","color":"#222","strokeWidth":1},
   "encoding":{"x":{"datum":0,"type":"quantitative","scale":{"domain":[0,1]},"axis":null},"y":{"datum":-0.5,"type":"quantitative","scale":{"domain":[-0.740,0.663],"nice":false,"zero":false},"axis":null},"y2":{"datum":0.5}}},
  {"mark":{"type":"square","size":5,"color":"#000","opacity":1},
   "encoding":{"x":{"field":"x","type":"quantitative","scale":{"domain":[0,1]},"axis":{"orient":"bottom","values":[0,0.2,0.4,0.6,0.8,1],"format":".1f","tickSize":3,"labelPadding":1,"offset":-80.2,"domain":true,"title":"ISA reference data","titleY":64,"titleBaseline":"middle"}},
    "y":{"field":"rn","type":"quantitative","scale":{"domain":[-0.740,0.663],"nice":false,"zero":false},"axis":{"orient":"left","values":[-0.5,-0.4,-0.3,-0.2,-0.1,0,0.1,0.2,0.3,0.4,0.5],"labelExpr":"replace(format(datum.value,'.1f'),'−','-')","tickSize":3,"labelPadding":2,"domain":false,"title":"Residual for NISI","titlePadding":4}}}},
  {"data":{"values":[{}]},"mark":{"type":"text","fontSize":11,"align":"center","baseline":"middle","color":"#000","font":"Open Sans"},
   "encoding":{"x":{"datum":0.924,"type":"quantitative","axis":null},"y":{"datum":0.601,"type":"quantitative","axis":null},"text":{"value":"(b3)"}}}
 ]}
]
}
